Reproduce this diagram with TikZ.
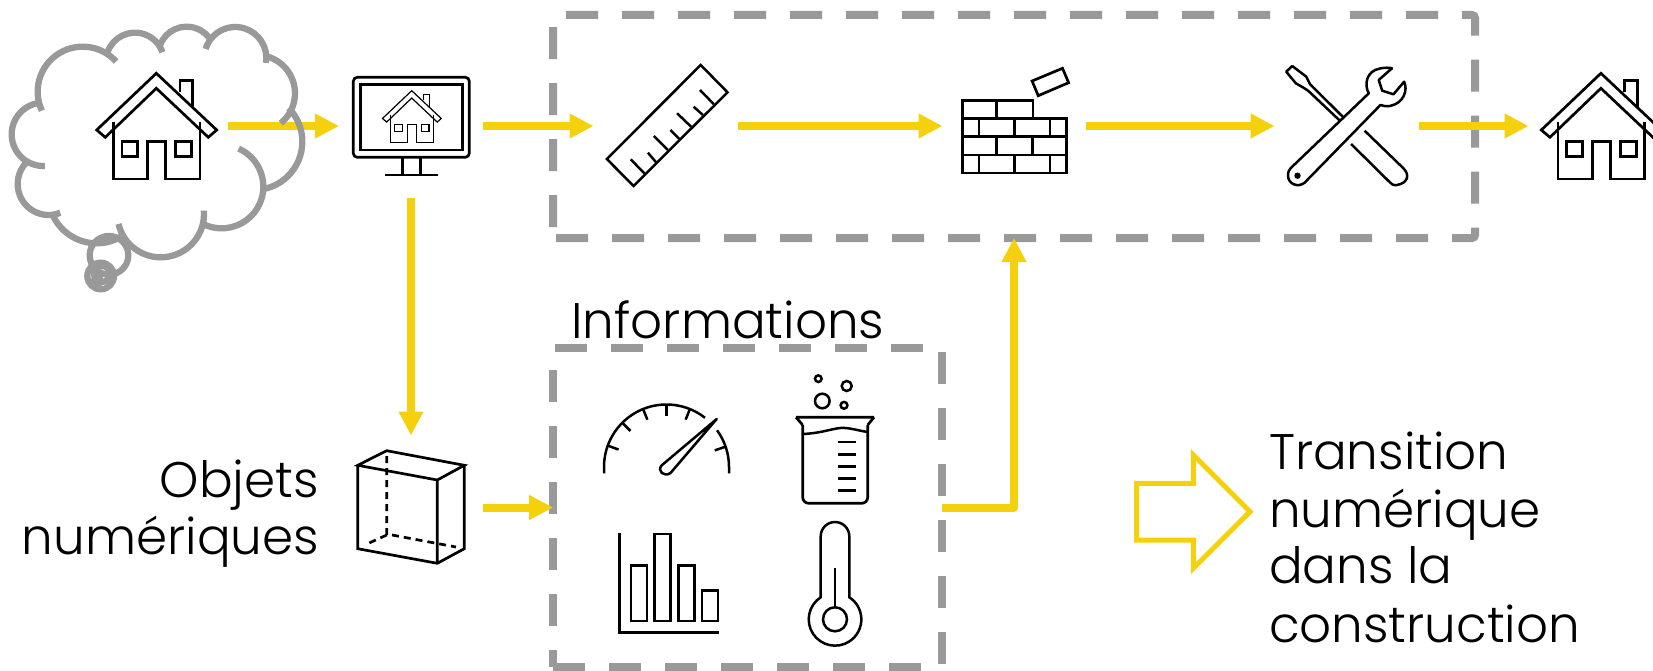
\documentclass[tikz,border=0pt]{standalone}
\usepackage{fontspec}
\setmainfont{Poppins Light}
\usetikzlibrary{arrows.meta}
\definecolor{flow}{HTML}{F5D10D}
\definecolor{frame}{HTML}{999999}
\tikzset{
  box/.style={draw=none,inner sep=0pt,outer sep=0pt,minimum width=#1,minimum height=144pt},
  icon/.style={draw=black,line width=2.7pt,line join=miter},
  thin icon/.style={draw=black,line width=2.5pt},
  flowline/.style={draw=flow,line width=8pt,-{Triangle[length=24pt,width=23.3pt]}},
  dashframe/.style={draw=frame,line width=8pt,dash pattern=on 32pt off 24pt},
  cloudline/.style={draw=frame,line width=6.3pt},
  label/.style={inner sep=0pt,outer sep=0pt,font=\fontsize{50}{57}\selectfont,text=black}
}
\newcommand{\houseicon}[4]{%
\begin{scope}[shift={(#1,#2)},scale=#3,line width=#4pt,draw=black,line join=miter]
\draw (0,0) -- (60.4,56.7) -- (52,64) -- (0,15) -- (-51,64) -- (-59.6,56.7) -- cycle;
\draw (-43,49) -- (-43,105.7) -- (-8.6,105.7) -- (-8.6,68.4) -- (9.4,68.4) -- (9.4,105.7) -- (43.7,105.7) -- (43.7,49);
\draw (-34.3,68.4) rectangle (-18.6,83.4);
\draw (19.4,68.4) rectangle (35.4,83.4);
\draw (23.7,19) -- (23.7,7) -- (36.4,7) -- (36.4,33.5);
\end{scope}}
\newcommand{\lobe}[5]{\draw ({#1+#3*cos(#4)},{#2+#3*sin(#4)}) arc[start angle=#4,end angle=#5,radius=#3];}
\begin{document}
\begin{tikzpicture}[x=1pt,y=1pt,yscale=-1]
\clip (0,0) rectangle (1653,671);
% layout nodes
\node[box=144pt] (house1) at (156,126) {};
\node[box=144pt] (monitor) at (411,126) {};
\node[box=144.4pt] (ruler) at (665.8,126) {};
\node[box=143.5pt] (wall) at (1014.3,126) {};
\node[box=144.4pt] (tools) at (1346.8,126) {};
\node[box=144.6pt] (house2) at (1600.9,126) {};
\node[box=144pt] (cube) at (411,507.5) {};
\node[draw=none,inner sep=0pt,outer sep=0pt,minimum width=922pt,minimum height=223pt] (process) at (1014,126.5) {};
\node[draw=none,inner sep=0pt,outer sep=0pt,minimum width=389pt,minimum height=319.5pt] (info) at (747.7,507.5) {};
% frames
\draw[dashframe,rounded corners=3pt] (process.south west) -- (process.south east) -- (process.north east) -- (process.north west) -- cycle;
\draw[dashframe] (info.south west) -- (info.south east) -- (info.north east) -- (info.north west) -- cycle;
% houses
\houseicon{156.3}{73.3}{1}{2.7}
\houseicon{1600.9}{73.3}{1}{2.7}
\houseicon{411.7}{90.7}{0.49}{1.2}
% monitor
\draw[icon,rounded corners=4pt] (353.3,77.3) rectangle (469.3,157.3);
\draw[icon] (360.7,84.7) rectangle (462.7,150);
\draw[icon] (402.7,157) -- (402.7,175) (420.7,157) -- (420.7,175) (385,175) -- (438.3,175);
% ruler
\draw[thin icon] (700.7,65) -- (727.5,92.3) -- (633.6,186) -- (606.8,159) -- cycle;
\draw[thin icon] (644.3,173.3) -- (630.7,159.3) (656.1,162.3) -- (647.9,152.7) (667.9,150) -- (653.9,136)
 (679.3,139) -- (670.4,130) (691.1,126.7) -- (677.1,113.3) (702.9,115) -- (693.6,106.7) (713.9,104.3) -- (700,90);
% wall
\draw[icon] (962.5,118.3) -- (962.5,100.7) -- (1032.9,100.7) -- (1032.9,118.3);
\draw[icon] (962.5,118.3) rectangle (1066.8,173);
\draw[icon] (962.5,136.7) -- (1066.8,136.7) (962.5,155) -- (1066.8,155);
\draw[icon] (996.8,100.7) -- (996.8,118.3) (979,118.3) -- (979,136.7) (1014.6,118.3) -- (1014.6,136.7) (1050,118.3) -- (1050,136.7)
 (996.8,136.7) -- (996.8,155) (1032.5,136.7) -- (1032.5,155) (979,155) -- (979,173) (1014.6,155) -- (1014.6,173) (1050,155) -- (1050,173);
\draw[icon] (1032.1,81) -- (1062.5,68.3) -- (1068.6,82.7) -- (1038.2,95.7) -- cycle;
% tools
\draw[thin icon,line join=round] (1339.9,120.7) -- (1308.1,90.7) -- (1302.8,87.3) -- (1295.8,83.3) -- (1286.2,71.7) -- (1292.2,66) -- (1306.3,76.7) -- (1309.9,84) -- (1342.7,116.7);
\draw[thin icon] (1364.6,130.7) -- (1403.4,168.3) .. controls (1410,175) and (1408,183) .. (1397,185) .. controls (1393,185.5) and (1391,184) .. (1389.2,181.7) -- (1351.1,144);
\draw[thin icon,line join=round] (1368.8,93.3) .. controls (1364,85) and (1366,71) .. (1380,68.5) .. controls (1385,67.5) and (1389,67.5) .. (1392,68.3)
 -- (1378.7,80) -- (1382.2,90.7) -- (1393.5,94.3) -- (1404.1,81.7) .. controls (1408,90) and (1404,103) .. (1390,106) .. controls (1386,106.5) and (1383,106) .. (1380.4,105)
 -- (1304.6,182.7) .. controls (1298,188) and (1288,184) .. (1288,175.7) .. controls (1288,172) and (1289,170) .. (1290.5,168.3) -- cycle;
\fill (1297.5,175.7) circle[radius=3.2];
% cube
\draw[icon] (357.7,465.3) -- (386.7,450.7) -- (464.3,465.3) -- (437.3,480) -- cycle;
\draw[icon] (357.7,465.3) -- (357.7,548.7) -- (437.3,563.3) -- (464.3,548.7) -- (464.3,465.3) (437.3,480) -- (437.3,563.3);
\draw[icon,dash pattern=on 7pt off 5pt] (386.7,456) -- (386.7,535) (386.7,535) -- (367,544) (392,535) -- (456,547);
% gauge
\draw[thin icon] (604,473.3) -- (604,467) arc[start angle=180,end angle=308,radius=62.5];
\draw[thin icon] ({666.5+62.5*cos(324)},{467+62.5*sin(324)}) arc[start angle=324,end angle=360,radius=62.5] -- (729,473.3);
\foreach \a in {160,135,112,90,68,19}
  \draw[thin icon] ({666.5+62.5*cos(-\a)},{467+62.5*sin(-\a)}) -- ({666.5+51*cos(-\a)},{467+51*sin(-\a)});
\draw[thin icon,line join=round] (716.7,419) -- (661.5,465.5) .. controls (657,471) and (664,477.5) .. (670.5,473) -- cycle;
% beaker
\draw[icon] (796,417.3) -- (874,417.3) (796,417.3) -- (802.7,425) (874,417.3) -- (867.7,425);
\draw[icon,rounded corners=6pt] (802.7,425) -- (802.7,503.3) -- (867.7,503.3) -- (867.7,425);
\draw[thin icon] (802.7,434) .. controls (825,433) and (835,427) .. (845,428) .. controls (853,428.5) and (860,431) .. (867.7,432);
\draw[icon] (838.3,442) -- (856,442) (838.3,454.3) -- (856,454.3) (838.3,466.3) -- (856,466.3) (838.3,478.3) -- (856,478.3) (838.3,490.3) -- (856,490.3);
\draw[thin icon] (822.3,401) circle[radius=7.3] (818.3,378.7) circle[radius=3.3] (846.7,386) circle[radius=5] (844,405.3) circle[radius=3.4];
% bars
\draw[thin icon] (619.3,533.3) -- (619.3,632.7) -- (719,632.7);
\draw[thin icon] (631,565.3) rectangle (647,621) (654.7,534) rectangle (670.7,621) (678.3,565.3) rectangle (694.3,621) (702,590.7) rectangle (718,621);
% thermometer
\draw[thin icon] (820.7,597.3) arc[start angle=237,end angle=-57,radius=26.3] -- (849.3,536.3) arc[start angle=0,end angle=-180,radius=14.3] -- cycle;
\draw[thin icon] (835,619.3) circle[radius=12];
\draw[thin icon] (835,568.3) -- (835,607);
% hollow arrow
\draw[draw=flow,line width=5pt] (1136.7,483.3) -- (1193.3,483.3) -- (1193.3,455) -- (1250,511.7) -- (1193.3,568.3) -- (1193.3,540) -- (1136.7,540) -- cycle;
% connectors
\draw[flowline] (house1.east) -- (monitor.west);
\draw[flowline] (monitor.east) -- (ruler.west);
\draw[flowline] (ruler.east) -- (wall.west);
\draw[flowline] (wall.east) -- (tools.west);
\draw[flowline] (tools.east) -- (house2.west);
\draw[flowline] (monitor.south) -- (cube.north);
\draw[flowline] (cube.east) -- (info.west);
\draw[flowline,line join=round] (info.east) -| (process.south);
% cloud
\begin{scope}[scale=1/3,cloudline]
\lobe{248}{275}{135}{155}{318}
\lobe{405}{185}{87}{199}{341}
\lobe{560}{165}{85}{201}{329}
\lobe{706}{174}{93}{197}{369}
\lobe{770}{280}{115}{-75}{51}
\lobe{762}{425}{145}{-44}{79}
\lobe{665}{560}{125}{-66}{117}
\lobe{482}{642}{130}{-4.4}{166.7}
\lobe{290}{585}{145}{57.6}{157.8}
\lobe{146}{552}{93}{68}{223}
\lobe{130}{403}{95}{87}{267}
\draw (327,766) circle[radius=58];
\draw (302,828) circle[radius=40];
\draw (306,822) circle[radius=24];
\draw (292,842) circle[radius=10];
\end{scope}
% text
\node[label,anchor=base west] (infotitle) at (571.5,338.3) {Informations};
\node[label,anchor=base east] (obj1) at (319,497) {Objets};
\node[label,anchor=base east] (obj2) at (319,554) {numériques};
\node[label,anchor=base west] (t1) at (1269,469) {Transition};
\node[label,anchor=base west] (t2) at (1269,527) {numérique};
\node[label,anchor=base west] (t3) at (1269,583) {dans la};
\node[label,anchor=base west] (t4) at (1269,642) {construction};
\end{tikzpicture}
\end{document}
